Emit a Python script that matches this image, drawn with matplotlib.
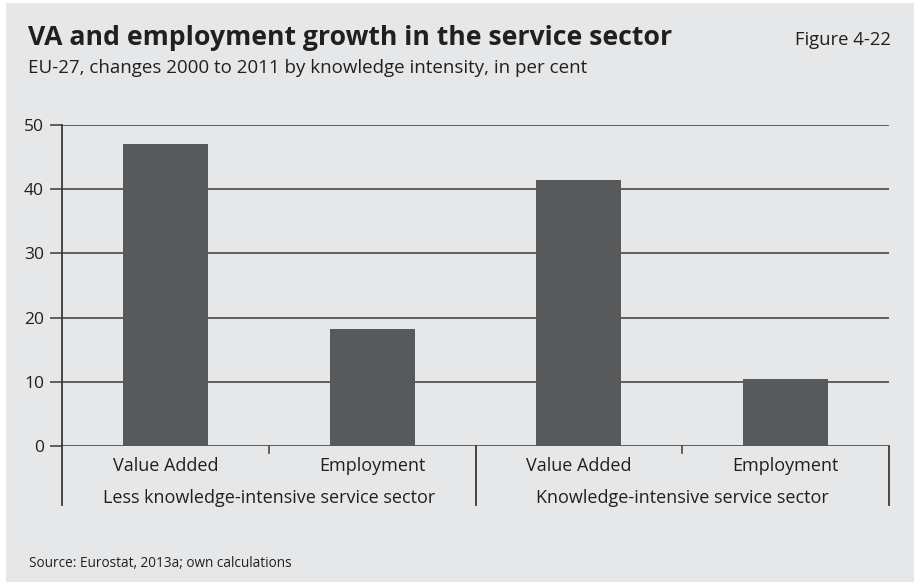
import numpy as np
import matplotlib.pyplot as plt
from matplotlib.patches import Rectangle
from matplotlib.transforms import blended_transform_factory

plt.rcParams['font.family'] = ['Open Sans', 'DejaVu Sans']

categories = ['Value Added', 'Employment', 'Value Added', 'Employment']
groups = ['Less knowledge-intensive service sector', 'Knowledge-intensive service sector']
values = [47.0, 18.3, 41.5, 10.4]
yticks = [0, 10, 20, 30, 40, 50]

W, H = 914, 586
bg = '#e6e7e8'
bar_color = '#58595b'
line_color = '#3a3a3a'
text_color = '#231f20'

fig = plt.figure(figsize=(W / 100, H / 100), dpi=100)
fig.patch.set_facecolor('white')
fig.patches.append(Rectangle((6 / W, 1 - 582 / H), 1 - 6 / W, (582 - 3) / H,
                             transform=fig.transFigure, facecolor=bg,
                             edgecolor='none', zorder=-10))


def px(x, y):
    return x / W, 1 - y / H


ax = fig.add_axes([62 / W, 1 - 446 / H, (889 - 62) / W, (446 - 125) / H])
ax.set_facecolor('none')

x = np.arange(len(values))
ax.bar(x, values, width=0.41, color=bar_color, zorder=3)

ax.set_xlim(-0.5, len(values) - 0.5)
ax.set_ylim(0, 50)
ax.set_yticks(yticks)
ax.set_yticklabels([str(t) for t in yticks], fontsize=12.5, color=text_color)
for t in yticks:
    ax.axhline(t, color=line_color, lw=1.1, zorder=1)

for s in ['top', 'right', 'bottom']:
    ax.spines[s].set_visible(False)
ax.spines['left'].set_color(line_color)
ax.spines['left'].set_linewidth(1.3)
ax.tick_params(axis='y', length=9, width=1.1, color=line_color, pad=4)

ax.set_xticks(x)
ax.set_xticklabels(categories, fontsize=13, color=text_color)
ax.tick_params(axis='x', length=0, pad=8)

# separators below the category axis
trans = blended_transform_factory(ax.transData, ax.transAxes)
drop = 59 / 321
tick = 7 / 321
for xs in [-0.5, 1.5, 3.5]:
    ax.plot([xs, xs], [0, -drop], transform=trans, color=line_color,
            lw=1.3, clip_on=False)
for xs in [0.5, 2.5]:
    ax.plot([xs, xs], [0, -tick], transform=trans, color=line_color,
            lw=1.1, clip_on=False)

for i, g in enumerate(groups):
    ax.text(2 * i + 0.5, -57 / 321, g, transform=trans, ha='center',
            va='baseline', fontsize=13, color=text_color)

fig.text(*px(28, 45), 'VA and employment growth in the service sector',
         fontsize=19.2, fontweight='bold', color=text_color, va='baseline')
fig.text(*px(891, 45), 'Figure 4-22', fontsize=13.3, color=text_color,
         ha='right', va='baseline')
fig.text(*px(28, 73), 'EU-27, changes 2000 to 2011 by knowledge intensity, in per cent',
         fontsize=13.5, color=text_color, va='baseline')
fig.text(*px(29, 567), 'Source: Eurostat, 2013a; own calculations',
         fontsize=9.8, color=text_color, va='baseline')

fig.savefig('out.png', dpi=100)
